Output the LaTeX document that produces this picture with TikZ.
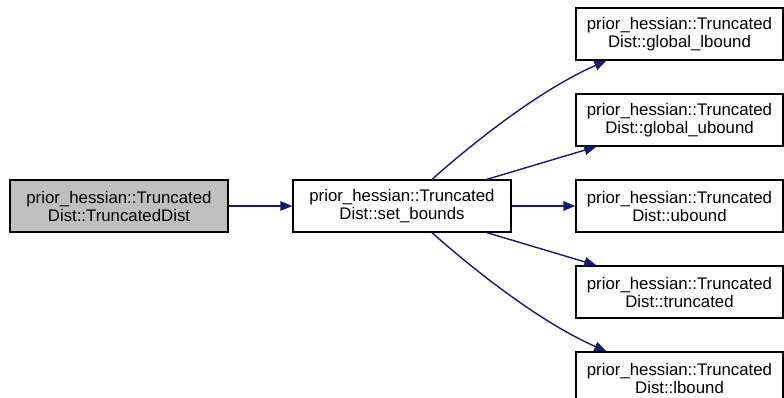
\documentclass[tikz,border=0pt]{standalone}
\usepackage{fontspec}
\setmainfont{Liberation Sans}
\usetikzlibrary{arrows.meta}
\definecolor{edgecol}{HTML}{191970}
\definecolor{grayfill}{HTML}{BFBFBF}
\tikzset{
  fnbox/.style={draw=black, line width=1.4pt, minimum width=218pt, minimum height=52pt,
    align=center, inner sep=0pt, font=\fontsize{16.8}{18}\selectfont},
  rbox/.style={fnbox, minimum width=207pt},
  calledge/.style={draw=edgecol, line width=1.4pt, -{Triangle[length=12pt,width=9.5pt]}}
}
\begin{document}
\begin{tikzpicture}[x=1pt,y=-1pt]
\useasboundingbox (0,0) rectangle (784,398);
\node[fnbox, fill=grayfill] (a) at (119,206) {prior\_hessian::Truncated\\Dist::TruncatedDist};
\node[fnbox] (m) at (402,206) {prior\_hessian::Truncated\\Dist::set\_bounds};
\node[rbox] (r1) at (679.5,34) {prior\_hessian::Truncated\\Dist::global\_lbound};
\node[rbox] (r2) at (679.5,120) {prior\_hessian::Truncated\\Dist::global\_ubound};
\node[rbox] (r3) at (679.5,206) {prior\_hessian::Truncated\\Dist::ubound};
\node[rbox] (r4) at (679.5,292) {prior\_hessian::Truncated\\Dist::truncated};
\node[rbox] (r5) at (679.5,378) {prior\_hessian::Truncated\\Dist::lbound};
\draw[calledge] (a.east) -- (m.west);
\draw[calledge] ([xshift=30pt]m.north) .. controls (465,150) and (535,92) .. ([xshift=31pt]r1.south west);
\draw[calledge] ([xshift=85pt]m.north) -- ([xshift=21pt]r2.south west);
\draw[calledge] (m.east) -- (r3.west);
\draw[calledge] ([xshift=85pt]m.south) -- ([xshift=21pt]r4.north west);
\draw[calledge] ([xshift=30pt]m.south) .. controls (465,262) and (535,320) .. ([xshift=31pt]r5.north west);
\end{tikzpicture}
\end{document}
